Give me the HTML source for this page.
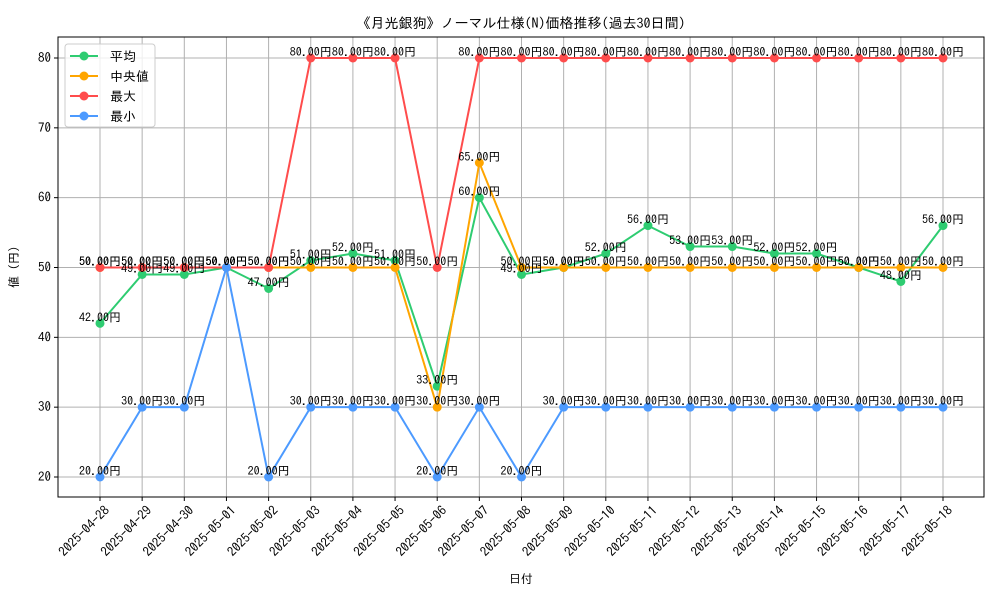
<!DOCTYPE html>
<html><head><meta charset="utf-8">
<style>
body{margin:0;background:#fff;}
svg text{font-family:"IPAGothic","Liberation Sans",sans-serif;}
</style></head>
<body>
<svg id="chart" width="1000" height="600" xmlns="http://www.w3.org/2000/svg">
<rect width="1000" height="600" fill="#fff"/>
<text x="521" y="28" font-size="14" text-anchor="middle">《月光銀狗》ノーマル仕様(N)価格推移(過去30日間)</text>
<g id="grid"></g>
<g id="axes"></g>
<g id="series"></g>
<g id="labels"></g>
<rect x="58" y="37" width="926" height="460" fill="none" stroke="#000" stroke-width="1"/>
<text x="521" y="583" font-size="12" text-anchor="middle">日付</text>
<text transform="translate(18,267) rotate(-90)" font-size="12" text-anchor="middle">値 (円)</text>
<g id="legend"></g>
</svg>
<script>
const categories=["2025-04-28","2025-04-29","2025-04-30","2025-05-01","2025-05-02","2025-05-03","2025-05-04","2025-05-05","2025-05-06","2025-05-07","2025-05-08","2025-05-09","2025-05-10","2025-05-11","2025-05-12","2025-05-13","2025-05-14","2025-05-15","2025-05-16","2025-05-17","2025-05-18"];
const avgValues=[42,49,49,50,47,51,52,51,33,60,49,50,52,56,53,53,52,52,50,48,56];
const medianValues=[50,50,50,50,50,50,50,50,30,65,50,50,50,50,50,50,50,50,50,50,50];
const maxValues=[50,50,50,50,50,80,80,80,50,80,80,80,80,80,80,80,80,80,80,80,80];
const minValues=[20,30,30,50,20,30,30,30,20,30,20,30,30,30,30,30,30,30,30,30,30];
const yTicks=[20,30,40,50,60,70,80];
const seriesNames=["平均","中央値","最大","最小"];
const colors=["#2ecc71","#ffa500","#ff4c4c","#4c9aff"];

const NS="http://www.w3.org/2000/svg";
const x0=100,x1=943;
const xS=i=>x0+(x1-x0)*i/(categories.length-1);
const yS=v=>477+(20-v)*(477-58)/60;
function mk(tag,attrs,parent){const e=document.createElementNS(NS,tag);for(const k in attrs)e.setAttribute(k,attrs[k]);parent.appendChild(e);return e;}
const grid=document.getElementById('grid'),axes=document.getElementById('axes'),ser=document.getElementById('series'),lab=document.getElementById('labels'),leg=document.getElementById('legend');
categories.forEach((c,i)=>{
  const x=xS(i);
  const g=mk('line',{x1:x,x2:x,y1:37,y2:497,stroke:'#b0b0b0','stroke-width':1},grid);
  
  
  mk('line',{x1:x,x2:x,y1:497,y2:501,stroke:'#000'},axes);
  const t=mk('text',{transform:`translate(${x+4},${505}) rotate(-45)`,'font-size':13,'text-anchor':'end','dominant-baseline':'hanging'},axes);
  
  
  t.textContent=c;
});
yTicks.forEach(v=>{
  const y=yS(v);
  const g=mk('line',{x1:58,x2:984,y1:y,y2:y,stroke:'#b0b0b0','stroke-width':1},grid);
  
  
  mk('line',{x1:54,x2:58,y1:y,y2:y,stroke:'#000'},axes);
  const t=mk('text',{x:51,y:y+4,'font-size':13,'text-anchor':'end'},axes);
  
  
  t.textContent=v;
});
const all=[avgValues,medianValues,maxValues,minValues];
const keys=['avg','median','max','min'];
all.forEach((vals,s)=>{
  const p=mk('polyline',{points:vals.map((v,i)=>xS(i)+','+yS(v)).join(' '),fill:'none',stroke:colors[s],'stroke-width':2},ser);
  
  
  vals.forEach((v,i)=>{
    const c=mk('circle',{cx:xS(i),cy:yS(v),r:4.5,fill:colors[s]},ser);
    
    
    const t=mk('text',{x:xS(i),y:yS(v)-2,'font-size':12,'text-anchor':'middle'},lab);
    
    
    t.textContent=v.toFixed(2)+'円';
  });
});
mk('rect',{x:65,y:44,width:90,height:83,rx:3,fill:'#fff','fill-opacity':0.8,stroke:'#ccc'},leg);
seriesNames.forEach((n,s)=>{
  const y=56+s*20;
  const g=mk('g',{},leg);
  
  
  mk('line',{x1:70,x2:98,y1:y,y2:y,stroke:colors[s],'stroke-width':2},g);
  mk('circle',{cx:84,cy:y,r:4.5,fill:colors[s]},g);
  const t=mk('text',{x:110,y:y+5,'font-size':13},g);
  t.textContent=n;
});
</script>
</body></html>
